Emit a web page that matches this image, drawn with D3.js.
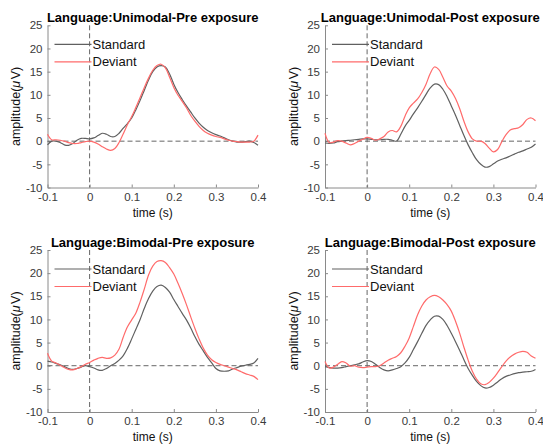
<!DOCTYPE html>
<html>
<head>
<meta charset="utf-8">
<script src="https://cdn.jsdelivr.net/npm/d3@7"></script>
<style>
  body { margin: 0; background: #fff; }
  svg { display: block; font-family: "Liberation Sans", Arial, Helvetica, sans-serif; }
</style>
</head>
<body>
<div id="chart"></div>
<script>
const width = 543;
const height = 446;

// ---- data (10 ms steps) ----
const timeS = [
  -0.10, -0.09, -0.08, -0.07, -0.06, -0.05, -0.04, -0.03, -0.02, -0.01,
  0.00, 0.01, 0.02, 0.03, 0.04, 0.05, 0.06, 0.07, 0.08, 0.09,
  0.10, 0.11, 0.12, 0.13, 0.14, 0.15, 0.16, 0.17, 0.18, 0.19,
  0.20, 0.21, 0.22, 0.23, 0.24, 0.25, 0.26, 0.27, 0.28, 0.29,
  0.30, 0.31, 0.32, 0.33, 0.34, 0.35, 0.36, 0.37, 0.38, 0.39, 0.40
];

const uniPreStandard = [
  -0.8, 0.0, 0.0, -0.3, -0.8, -0.9, -0.5, 0.2, 0.6, 0.6,
  0.5, 0.7, 1.2, 1.7, 1.5, 1.0, 1.0, 1.7, 2.8, 3.8,
  5.0, 6.8, 8.8, 11.0, 13.2, 15.0, 16.0, 16.3, 16.0, 14.5,
  12.3, 10.5, 9.0, 7.6, 6.3, 5.0, 3.9, 3.0, 2.3, 1.8,
  1.4, 1.1, 0.7, 0.3, 0.0, -0.2, -0.2, -0.1, 0.0, -0.3, -0.9
];
const uniPreDeviant = [
  1.5, 0.3, 0.3, 0.2, 0.0, -0.3, -0.5, -0.5, -0.3, -0.1,
  0.0, -0.2, -0.6, -1.2, -1.7, -2.0, -1.6, -0.3, 1.6, 3.6,
  5.3, 7.3, 9.4, 11.6, 13.6, 15.3, 16.3, 16.6, 15.8, 13.8,
  11.6, 9.9, 8.6, 7.2, 5.6, 4.3, 3.2, 2.3, 1.7, 1.3,
  1.0, 0.8, 0.5, 0.2, 0.0, -0.1, -0.2, -0.2, -0.2, 0.0, 1.3
];
const uniPostStandard = [
  -0.4, -0.5, -0.4, -0.1, 0.0, 0.1, 0.2, 0.3, 0.4, 0.5,
  0.5, 0.4, 0.3, 0.3, 0.4, 0.4, 0.2, 0.0, 1.5, 3.2,
  4.5, 5.9, 7.2, 8.6, 10.1, 11.5, 12.3, 12.2, 11.2, 9.6,
  7.6, 5.6, 3.4, 1.2, -0.8, -2.5, -4.0, -5.0, -5.6, -5.5,
  -4.9, -4.3, -3.9, -3.6, -3.2, -2.8, -2.4, -2.1, -1.7, -1.3, -0.6
];
const uniPostDeviant = [
  1.7, -0.3, -0.2, 0.1, 0.0, -0.4, -0.8, -0.5, 0.0, 0.4,
  0.8, 0.6, 0.2, 0.5, 1.0, 2.0, 2.3, 2.0, 3.2, 5.4,
  7.2, 8.2, 9.1, 10.5, 12.3, 14.6, 16.0, 15.5, 13.8, 11.9,
  10.8, 9.2, 7.0, 4.3, 2.0, 0.5, 0.0, 0.0, -0.5, -1.5,
  -2.3, -1.8, -0.1, 1.4, 2.4, 2.7, 2.9, 3.6, 4.7, 5.0, 4.4
];
const biPreStandard = [
  1.0, 0.8, 0.5, 0.2, -0.2, -0.6, -0.8, -0.6, -0.3, 0.0,
  -0.2, -0.5, -0.9, -1.0, -0.6, 0.0, 0.5, 1.2, 2.2, 3.8,
  5.8, 7.9, 10.0, 12.4, 14.5, 16.1, 17.1, 17.4, 16.9, 15.9,
  14.3, 12.8, 11.3, 9.9, 8.2, 6.3, 4.6, 3.2, 1.8, 0.6,
  -0.6, -1.1, -1.2, -1.1, -0.7, -0.4, -0.1, 0.1, 0.3, 0.6, 1.6
];
const biPreDeviant = [
  2.7, 1.0, 0.6, 0.1, -0.4, -0.8, -0.9, -0.6, -0.2, 0.3,
  0.7, 1.2, 1.6, 1.8, 1.6, 1.7, 2.3, 3.6, 6.2, 8.4,
  9.9, 11.4, 13.8, 16.6, 19.6, 21.5, 22.5, 22.7, 22.3, 21.2,
  19.8, 17.8, 15.6, 13.2, 10.6, 8.1, 5.8, 3.8, 2.3, 1.3,
  0.7, 0.3, 0.0, -0.3, -0.6, -0.9, -1.3, -1.7, -2.0, -2.3, -3.0
];
const biPostStandard = [
  -0.2, -0.4, -0.5, -0.5, -0.4, -0.2, 0.0, 0.2, 0.4, 0.8,
  1.1, 0.9, 0.3, -0.4, -0.9, -1.1, -0.9, -0.6, -0.2, 0.6,
  1.8, 3.5, 5.2, 7.0, 8.7, 9.9, 10.7, 10.7, 10.0, 8.7,
  7.0, 5.2, 3.3, 1.3, -0.6, -2.1, -3.4, -4.3, -4.8, -4.7,
  -4.2, -3.5, -2.8, -2.3, -2.0, -1.7, -1.5, -1.4, -1.3, -1.2, -0.8
];
const biPostDeviant = [
  0.9, -0.5, -0.3, 0.3, 0.9, 0.6, -0.1, 0.0, -0.3, -0.4,
  -0.3, -0.2, -0.2, 0.0, 0.6, 1.2, 1.6, 2.0, 2.8, 4.2,
  6.0, 8.5, 11.0, 12.9, 14.2, 14.9, 15.2, 14.9, 14.2, 13.2,
  11.8, 9.6, 7.0, 4.0, 1.2, -1.2, -2.9, -3.9, -4.1, -3.6,
  -2.7, -1.5, -0.2, 1.0, 1.9, 2.5, 2.9, 3.1, 2.9, 2.1, 1.6
];

const panelTitles = [
  "Language:Unimodal-Pre exposure",
  "Language:Unimodal-Post exposure",
  "Language:Bimodal-Pre exposure",
  "Language:Bimodal-Post exposure"
];
const seriesNames = ["Standard", "Deviant"];
const xTicks = [-0.1, 0, 0.1, 0.2, 0.3, 0.4];
const yTicks = [-10, -5, 0, 5, 10, 15, 20, 25];

// ---- layout ----
const panels = [
  { title: panelTitles[0], std: uniPreStandard, dev: uniPreDeviant, x0: 47.5, x1: 258, y0: 25.3, y1: 187.5 },
  { title: panelTitles[1], std: uniPostStandard, dev: uniPostDeviant, x0: 325, x1: 535.5, y0: 25.3, y1: 187.5 },
  { title: panelTitles[2], std: biPreStandard, dev: biPreDeviant, x0: 47.5, x1: 258, y0: 250, y1: 412 },
  { title: panelTitles[3], std: biPostStandard, dev: biPostDeviant, x0: 325, x1: 535.5, y0: 250, y1: 412 }
];

const colStd = "#606060";
const colDev = "#ff6b6b";
const axisCol = "#8a8a8a";
const textCol = "#3a3a3a";

const svg = d3.select("#chart")
  .append("svg")
  .attr("width", width)
  .attr("height", height);

panels.forEach(p => {
  const x = d3.scaleLinear().domain([-0.1, 0.4]).range([p.x0, p.x1]);
  const y = d3.scaleLinear().domain([-10, 25]).range([p.y1, p.y0]);
  const g = svg.append("g");

  // axes (left + bottom, ticks inward)
  const xAxis = g.append("g")
    .attr("transform", `translate(0,${p.y1})`)
    .call(d3.axisBottom(x).tickValues(xTicks).tickFormat(d => String(d))
      .tickSizeInner(-3).tickSizeOuter(0).tickPadding(5));
  const yAxis = g.append("g")
    .attr("transform", `translate(${p.x0},0)`)
    .call(d3.axisLeft(y).tickValues(yTicks).tickFormat(d => String(d))
      .tickSizeInner(-3).tickSizeOuter(0).tickPadding(5));
  [xAxis, yAxis].forEach(a => {
    a.select(".domain").attr("stroke", axisCol);
    a.selectAll(".tick line").attr("stroke", axisCol);
    a.selectAll(".tick text")
      .attr("fill", textCol)
      .style("font-size", "11.5px")
      .style("font-family", "'Liberation Sans', Arial, sans-serif");
  });

  // reference lines
  g.append("line")
    .attr("x1", x(-0.1)).attr("x2", x(0.4))
    .attr("y1", y(0)).attr("y2", y(0))
    .attr("stroke", "#666").attr("stroke-dasharray", "5,3");
  g.append("line")
    .attr("x1", x(0)).attr("x2", x(0))
    .attr("y1", y(25)).attr("y2", y(-10))
    .attr("stroke", "#666").attr("stroke-dasharray", "5,3");

  const line = d3.line()
    .x((d, i) => x(timeS[i]))
    .y(d => y(d))
    .curve(d3.curveCatmullRom.alpha(0.5));

  g.append("path").datum(p.std)
    .attr("d", line).attr("fill", "none")
    .attr("stroke", colStd).attr("stroke-width", 1.2);
  g.append("path").datum(p.dev)
    .attr("d", line).attr("fill", "none")
    .attr("stroke", colDev).attr("stroke-width", 1.2);

  // legend
  [colStd, colDev].forEach((c, i) => {
    const ly = p.y0 + 19 + i * 17.5;
    g.append("line")
      .attr("x1", p.x0 + 7).attr("x2", p.x0 + 44)
      .attr("y1", ly).attr("y2", ly)
      .attr("stroke", c).attr("stroke-width", 1.2);
    g.append("text")
      .attr("x", p.x0 + 45).attr("y", ly + 4.5)
      .attr("font-size", 13).attr("fill", "#111")
      .text(seriesNames[i]);
  });

  // title
  g.append("text")
    .attr("x", (p.x0 + p.x1) / 2).attr("y", p.y0 - 3.5)
    .attr("text-anchor", "middle")
    .attr("font-size", 13).attr("font-weight", "bold").attr("fill", "#000")
    .text(p.title);

  // axis labels
  g.append("text")
    .attr("x", (p.x0 + p.x1) / 2).attr("y", p.y1 + 29)
    .attr("text-anchor", "middle")
    .attr("font-size", 12).attr("fill", "#111")
    .text("time (s)");

  const yl = g.append("text")
    .attr("transform", `translate(${p.x0 - 31.5},${(p.y0 + p.y1) / 2}) rotate(-90)`)
    .attr("dy", "0.35em")
    .attr("text-anchor", "middle")
    .attr("font-size", 12.5).attr("fill", "#111");
  yl.append("tspan").text("amplitude(");
  yl.append("tspan").attr("font-style", "italic").text("μ");
  yl.append("tspan").attr("dx", 1.5).text("V)");
});
</script>
</body>
</html>
